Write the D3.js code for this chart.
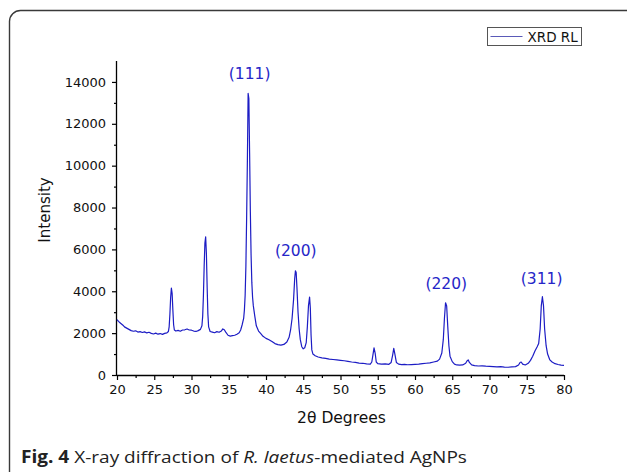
<!DOCTYPE html>
<html>
<head>
<meta charset="utf-8">
<script src="https://cdn.jsdelivr.net/npm/d3@7"></script>
<style>
  body { margin: 0; background: #fff; }
  svg { display: block; }
</style>
</head>
<body>
<div id="xrd"></div>
<script>
// diffraction pattern (2theta in degrees, counts)
const twoTheta = [
  20.0, 20.2, 20.4, 20.6, 20.8, 21.0, 21.3, 21.6, 21.9, 22.2, 22.5, 22.8, 23.1, 23.4, 23.7,
  24.0, 24.3, 24.6, 24.9, 25.2, 25.5, 25.8, 26.1, 26.4, 26.7, 26.9, 27.0, 27.1, 27.2, 27.3,
  27.4, 27.5, 27.6, 27.7, 27.9, 28.2, 28.5, 28.8, 29.1, 29.4, 29.7, 30.0, 30.3, 30.6, 30.9,
  31.2, 31.4, 31.5, 31.6, 31.7, 31.8, 31.9, 32.0, 32.1, 32.2, 32.3, 32.5, 32.8, 33.1, 33.4,
  33.7, 34.0, 34.2, 34.4, 34.6, 34.9, 35.2, 35.5, 35.8, 36.1, 36.4, 36.6, 36.8, 37.0, 37.1,
  37.2, 37.3, 37.4, 37.5, 37.6, 37.7, 37.8, 37.9, 38.0, 38.1, 38.2, 38.3, 38.5, 38.7, 39.0,
  39.3, 39.6, 40.0, 40.4, 40.8, 41.2, 41.6, 42.0, 42.4, 42.8, 43.1, 43.3, 43.5, 43.7, 43.85,
  43.95, 44.05, 44.15, 44.3, 44.45, 44.6, 44.8, 45.0, 45.2, 45.4, 45.55, 45.7, 45.85, 45.95, 46.05,
  46.15, 46.3, 46.6, 47.0, 47.5, 48.0, 48.5, 49.0, 49.5, 50.0, 50.5, 51.0, 51.5, 52.0, 52.5,
  53.0, 53.5, 54.0, 54.2, 54.35, 54.5, 54.65, 54.8, 55.0, 55.5, 56.0, 56.5, 56.8, 57.0, 57.15,
  57.3, 57.5, 57.8, 58.2, 58.6, 59.0, 59.5, 60.0, 60.5, 61.0, 61.5, 62.0, 62.5, 63.0, 63.3,
  63.6, 63.8, 63.95, 64.1, 64.25, 64.4, 64.55, 64.7, 65.0, 65.3, 65.6, 66.0, 66.4, 66.8, 67.0,
  67.15, 67.3, 67.6, 68.0, 68.5, 69.0, 69.5, 70.0, 70.5, 71.0, 71.5, 72.0, 72.5, 73.0, 73.5,
  73.9, 74.1, 74.25, 74.45, 74.8, 75.2, 75.5, 75.8, 76.1, 76.4, 76.6, 76.8, 76.95, 77.1, 77.25,
  77.4, 77.6, 77.8, 78.1, 78.4, 78.8, 79.2, 79.6, 80.0
];
const intensity = [
  2650, 2560, 2500, 2440, 2380, 2300, 2240, 2180, 2120, 2090, 2110, 2050, 2070, 2030, 2060,
  2010, 2040, 1990, 1960, 2000, 1950, 1980, 1940, 1990, 2010, 2080, 2300, 2900, 3700, 4150,
  3900, 3100, 2400, 2150, 2100, 2130, 2090, 2150, 2160, 2200, 2150, 2140, 2100, 2080, 2120,
  2180, 2350, 2800, 3800, 5200, 6300, 6600, 5800, 4200, 2900, 2300, 2080, 2050, 2020, 2070,
  2040, 2100, 2200, 2160, 2050, 1900, 1860, 1880, 1900, 1950, 2020, 2150, 2400, 2700, 3100,
  3800, 5200, 7500, 10200, 13450, 13200, 10600, 7800, 5700, 4400, 3700, 3300, 2800, 2350, 2100,
  1980, 1850, 1750, 1680, 1600, 1500, 1450, 1430, 1460, 1580, 1800, 2150, 2700, 3600, 4600,
  4980, 4900, 4200, 3000, 2200, 1700, 1350, 1250, 1300, 1550, 2300, 3300, 3720, 3200, 1900,
  1200, 1000, 920, 860, 820, 790, 760, 740, 720, 700, 680, 650, 620, 600, 570,
  560, 530, 520, 620, 950, 1300, 1050, 620, 540, 520, 530, 510, 600, 950, 1270,
  1000, 600, 520, 500, 510, 490, 500, 510, 520, 540, 560, 580, 620, 660, 760,
  1050, 1700, 2700, 3450, 3300, 2300, 1400, 900, 640, 520, 480, 470, 480, 560, 680,
  720, 600, 480, 450, 430, 440, 420, 410, 400, 390, 400, 380, 370, 390, 400,
  480, 600, 620, 520, 480, 560, 700, 900, 1150, 1350, 1500, 2200, 3300, 3740, 3300,
  2200, 1400, 1000, 720, 620, 540, 500, 470, 460
];

const xTicks = [20, 25, 30, 35, 40, 45, 50, 55, 60, 65, 70, 75, 80];
const xMinor = [22.5, 27.5, 32.5, 37.5, 42.5, 47.5, 52.5, 57.5, 62.5, 67.5, 72.5, 77.5];
const yTicks = [0, 2000, 4000, 6000, 8000, 10000, 12000, 14000];
const yMinor = [1000, 3000, 5000, 7000, 9000, 11000, 13000];

// Miller index labels and where they sit (2theta, intensity above the peak)
const peakLabels = ["(111)", "(200)", "(220)", "(311)"];
const peakPos = [37.8, 44.0, 64.2, 77.0];
const peakLabelY = [14150, 5700, 4100, 4350];

const W = 627, H = 472;
const margin = { top: 61, right: 63, bottom: 97, left: 117 },
    width = W - margin.left - margin.right,
    height = H - margin.top - margin.bottom;

const font = "'DejaVu Sans', Verdana, sans-serif";
const blue = "#1c1cc4";

const svg = d3.select("#xrd")
    .append("svg")
    .attr("width", W)
    .attr("height", H);

// rounded frame around the figure (runs off right and bottom)
svg.append("rect")
    .attr("x", 9.5).attr("y", 10.5)
    .attr("width", 660).attr("height", 500)
    .attr("rx", 11)
    .attr("fill", "#fff")
    .attr("stroke", "#3a3a3a")
    .attr("stroke-width", 1.4);

const g = svg.append("g")
    .attr("transform", "translate(" + margin.left + "," + margin.top + ")");

const x = d3.scaleLinear().domain([20, 80]).range([0, width]);
const y = d3.scaleLinear().domain([0, 15000]).range([height, 0]);

// X axis
const xAxis = g.append("g")
    .attr("transform", "translate(0," + height + ")")
    .call(d3.axisBottom(x).tickValues(xTicks).tickSize(5).tickPadding(5).tickFormat(d3.format("d")));
g.append("g")
    .attr("transform", "translate(0," + height + ")")
    .call(d3.axisBottom(x).tickValues(xMinor).tickSize(3).tickFormat(""))
    .select(".domain").remove();

// Y axis
const yAxis = g.append("g")
    .call(d3.axisLeft(y).tickValues(yTicks).tickSize(5).tickPadding(6).tickFormat(d3.format("d")));
g.append("g")
    .call(d3.axisLeft(y).tickValues(yMinor).tickSize(3).tickFormat(""))
    .select(".domain").remove();

g.selectAll(".domain").attr("stroke", "#000").attr("stroke-width", 1.3);
g.selectAll(".tick line").attr("stroke", "#000").attr("stroke-width", 1.2);
g.selectAll(".tick text")
    .attr("fill", "#111")
    .style("font-family", font)
    .style("font-size", "13px");
xAxis.select(".domain").attr("d", "M0,0.5H" + width);
yAxis.select(".domain").attr("d", "M-0.5," + height + "V0");

// pattern
const line = d3.line()
    .x((d, i) => x(twoTheta[i]))
    .y(d => y(d));

g.append("path")
    .datum(intensity)
    .attr("fill", "none")
    .attr("stroke", blue)
    .attr("stroke-width", 1.2)
    .attr("stroke-linejoin", "round")
    .attr("d", line);

// peak labels
g.selectAll(".peak")
    .data(peakLabels)
    .enter()
    .append("text")
    .attr("x", (d, i) => x(peakPos[i]))
    .attr("y", (d, i) => y(peakLabelY[i]))
    .attr("fill", "#2626c8")
    .style("font-family", font)
    .style("font-size", "15.5px")
    .style("text-anchor", "middle")
    .text(d => d);

// axis labels
g.append("text")
    .attr("transform", `translate(-67, ${height / 2 - 8}) rotate(-90)`)
    .attr("fill", "#111")
    .style("font-family", font)
    .style("font-size", "15px")
    .style("text-anchor", "middle")
    .text("Intensity");

g.append("text")
    .attr("x", width / 2 + 1)
    .attr("y", height + 48)
    .attr("fill", "#111")
    .style("font-family", font)
    .style("font-size", "15.5px")
    .style("text-anchor", "middle")
    .text("2\u03b8 Degrees");

// legend
const lg = svg.append("g").attr("transform", "translate(487.5,27.5)");
lg.append("rect")
    .attr("width", 94).attr("height", 18)
    .attr("fill", "#fff")
    .attr("stroke", "#555")
    .attr("stroke-width", 1);
lg.append("line")
    .attr("x1", 3).attr("x2", 35)
    .attr("y1", 9).attr("y2", 9)
    .attr("stroke", "#5a5ab8")
    .attr("stroke-width", 1.2);
lg.append("text")
    .attr("x", 40).attr("y", 14.5)
    .attr("fill", "#111")
    .style("font-family", font)
    .style("font-size", "13.5px")
    .text("XRD RL");

// caption, slightly widened like the source figure
const cap = svg.append("text")
    .attr("transform", "translate(21,463) scale(1.12,1)")
    .attr("fill", "#222")
    .style("font-family", "'Open Sans', 'Noto Sans', sans-serif")
    .style("font-size", "17px");
cap.append("tspan").style("font-weight", "bold").text("Fig. 4");
cap.append("tspan").text(" X-ray diffraction of ");
cap.append("tspan").style("font-style", "italic").text("R. laetus");
cap.append("tspan").text("-mediated AgNPs");
</script>
</body>
</html>
